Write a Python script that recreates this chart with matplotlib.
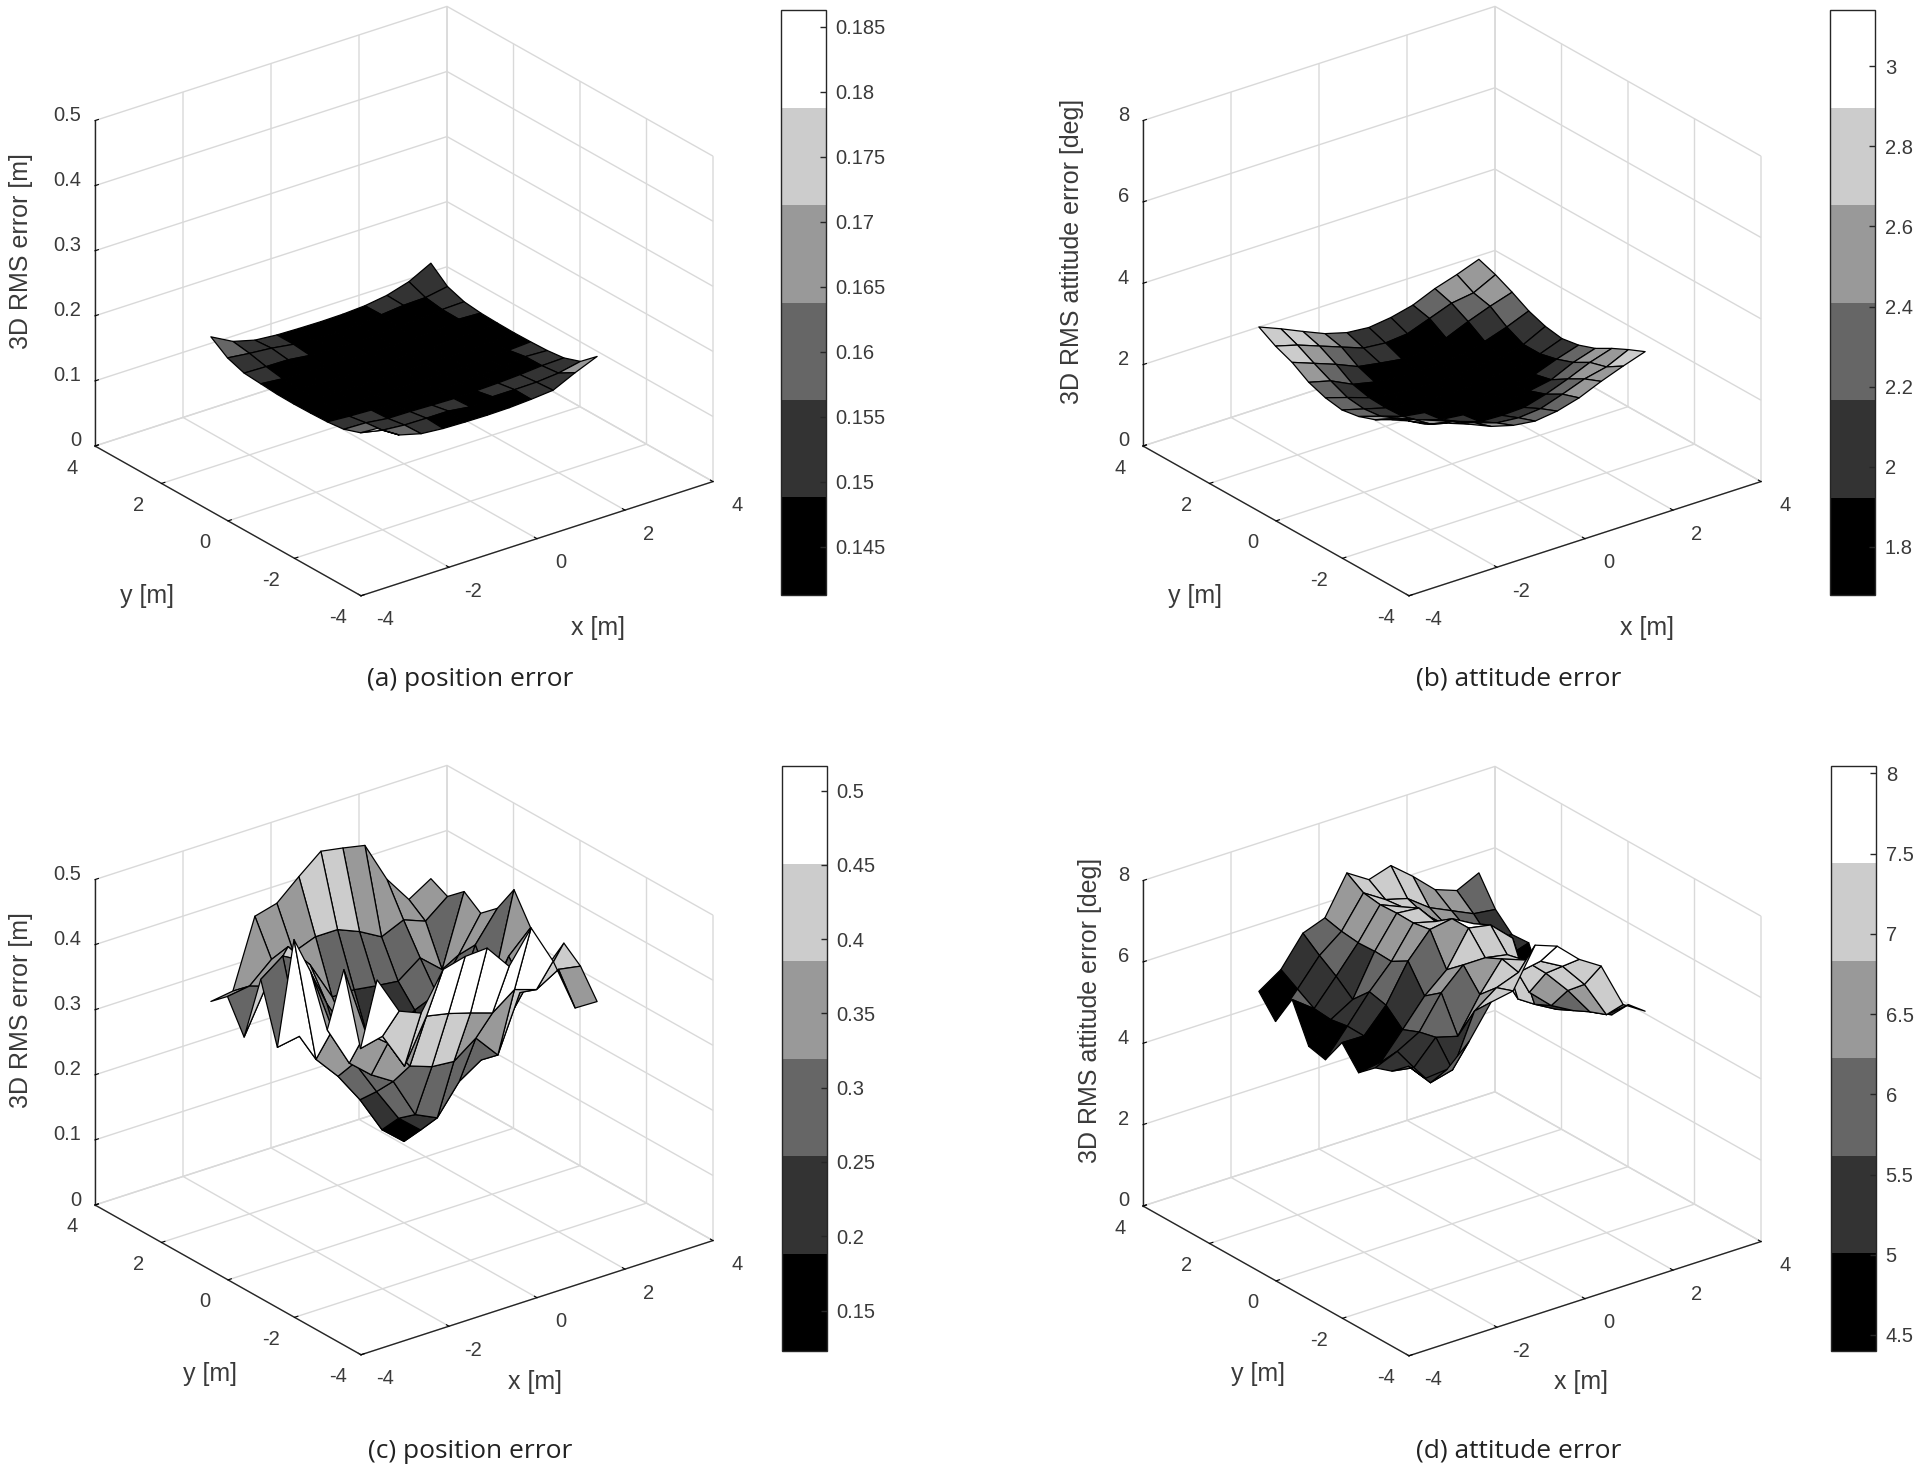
import matplotlib
matplotlib.use('Agg')
import matplotlib.pyplot as plt
from matplotlib.cm import ScalarMappable
from matplotlib.colors import ListedColormap, Normalize
from mpl_toolkits.mplot3d import proj3d
import numpy as np

plt.rcParams['font.family'] = ['Liberation Sans', 'DejaVu Sans']

W, H = 1919, 1474

x_grid = [-2.5, -2.0, -1.5, -1.0, -0.5, 0.0, 0.5, 1.0, 1.5, 2.0, 2.5]
y_grid = [-2.5, -2.0, -1.5, -1.0, -0.5, 0.0, 0.5, 1.0, 1.5, 2.0, 2.5]
xy_ticks = [-4, -2, 0, 2, 4]

# rows go with y, columns with x
pos_a = [
    [.1810, .1600, .1510, .1480, .1470, .1465, .1470, .1490, .1520, .1680, .1820],
    [.1600, .1530, .1500, .1495, .1495, .1450, .1495, .1495, .1500, .1530, .1600],
    [.1510, .1500, .1457, .1453, .1442, .1433, .1442, .1453, .1472, .1500, .1510],
    [.1480, .1457, .1442, .1433, .1428, .1426, .1428, .1433, .1457, .1495, .1480],
    [.1470, .1449, .1436, .1428, .1424, .1422, .1424, .1428, .1436, .1449, .1470],
    [.1465, .1445, .1433, .1426, .1422, .1420, .1422, .1426, .1433, .1445, .1465],
    [.1470, .1449, .1436, .1428, .1424, .1422, .1424, .1428, .1436, .1449, .1470],
    [.1490, .1457, .1442, .1433, .1428, .1426, .1428, .1433, .1442, .1495, .1480],
    [.1510, .1500, .1495, .1453, .1442, .1433, .1442, .1453, .1472, .1500, .1510],
    [.1600, .1560, .1530, .1480, .1457, .1445, .1457, .1495, .1530, .1540, .1600],
    [.1780, .1600, .1510, .1480, .1470, .1465, .1470, .1490, .1540, .1640, .1815],
]
att_b = [
    [3.00, 2.85, 2.65, 2.42, 2.27, 2.20, 2.27, 2.42, 2.65, 2.85, 3.03],
    [2.85, 2.60, 2.48, 2.28, 2.10, 2.05, 2.10, 2.28, 2.48, 2.60, 2.85],
    [2.65, 2.48, 2.28, 2.08, 1.90, 1.88, 1.90, 2.05, 2.25, 2.48, 2.65],
    [2.42, 2.28, 2.05, 1.90, 1.84, 1.82, 1.84, 1.90, 2.00, 2.25, 2.42],
    [2.27, 2.10, 1.92, 1.84, 1.80, 1.77, 1.80, 1.84, 1.90, 2.10, 2.27],
    [2.20, 2.05, 1.90, 1.82, 1.77, 1.74, 1.77, 1.82, 1.88, 2.00, 2.20],
    [2.27, 2.10, 1.92, 1.84, 1.80, 1.77, 1.80, 1.84, 1.90, 2.00, 2.27],
    [2.42, 2.28, 2.02, 1.90, 1.84, 1.82, 1.84, 1.90, 2.02, 2.20, 2.42],
    [2.68, 2.48, 2.28, 2.05, 1.96, 1.88, 1.90, 2.05, 2.28, 2.48, 2.65],
    [2.85, 2.70, 2.50, 2.30, 2.10, 2.05, 2.10, 2.30, 2.50, 2.58, 2.85],
    [3.09, 2.87, 2.63, 2.40, 2.25, 2.20, 2.27, 2.40, 2.63, 2.80, 3.00],
]
pos_c = [
    [.500, .441, .427, .483, .492, .494, .455, .503, .441, .358, .357],
    [.380, .388, .331, .397, .390, .380, .369, .394, .383, .403, .397],
    [.487, .379, .352, .306, .294, .291, .316, .279, .364, .368, .418],
    [.380, .318, .289, .268, .206, .190, .235, .257, .295, .345, .368],
    [.455, .355, .293, .238, .186, .157, .190, .250, .310, .380, .413],
    [.490, .295, .258, .211, .154, .125, .155, .210, .270, .315, .457],
    [.310, .316, .300, .260, .205, .160, .180, .220, .280, .369, .414],
    [.400, .425, .406, .330, .270, .240, .250, .276, .290, .339, .392],
    [.297, .364, .414, .375, .315, .315, .310, .306, .331, .302, .411],
    [.345, .350, .380, .380, .393, .393, .379, .360, .375, .362, .389],
    [.323, .328, .432, .441, .471, .499, .493, .486, .423, .381, .402],
]
att_d = [
    [5.60, 5.65, 6.16, 6.95, 7.05, 8.00, 7.80, 7.30, 6.96, 5.84, 5.50],
    [5.67, 5.09, 5.23, 6.50, 6.90, 7.10, 7.20, 6.90, 6.28, 5.36, 5.43],
    [5.32, 5.23, 5.80, 5.65, 6.50, 7.20, 7.00, 6.50, 5.90, 5.20, 4.95],
    [5.17, 5.40, 5.70, 6.49, 7.00, 7.00, 6.90, 5.80, 5.30, 5.00, 5.10],
    [4.82, 4.90, 5.53, 6.18, 6.65, 7.50, 7.40, 6.90, 5.10, 4.80, 5.20],
    [5.33, 5.32, 5.90, 6.81, 7.41, 7.50, 7.20, 6.90, 5.00, 4.70, 4.60],
    [4.68, 5.33, 6.00, 6.57, 7.34, 7.20, 6.60, 5.70, 5.40, 4.90, 4.52],
    [4.78, 5.26, 5.58, 6.59, 7.35, 7.30, 6.70, 6.20, 5.70, 5.40, 5.57],
    [5.70, 5.30, 5.92, 6.57, 7.33, 7.10, 6.75, 6.30, 6.00, 5.60, 5.54],
    [4.93, 5.55, 6.20, 6.62, 7.39, 7.05, 6.90, 6.50, 6.25, 6.00, 5.93],
    [5.44, 5.80, 6.52, 6.72, 7.65, 7.31, 7.48, 7.04, 6.54, 6.34, 6.60],
]

z_ticks_pos = [0, 0.1, 0.2, 0.3, 0.4, 0.5]
z_labels_pos = ['0', '0.1', '0.2', '0.3', '0.4', '0.5']
z_ticks_att = [0, 2, 4, 6, 8]
z_labels_att = ['0', '2', '4', '6', '8']

cb_ticks_a = [0.145, 0.15, 0.155, 0.16, 0.165, 0.17, 0.175, 0.18, 0.185]
cb_labels_a = ['0.145', '0.15', '0.155', '0.16', '0.165', '0.17', '0.175', '0.18', '0.185']
cb_ticks_b = [1.8, 2, 2.2, 2.4, 2.6, 2.8, 3]
cb_labels_b = ['1.8', '2', '2.2', '2.4', '2.6', '2.8', '3']
cb_ticks_c = [0.15, 0.2, 0.25, 0.3, 0.35, 0.4, 0.45, 0.5]
cb_labels_c = ['0.15', '0.2', '0.25', '0.3', '0.35', '0.4', '0.45', '0.5']
cb_ticks_d = [4.5, 5, 5.5, 6, 6.5, 7, 7.5, 8]
cb_labels_d = ['4.5', '5', '5.5', '6', '6.5', '7', '7.5', '8']

gray6 = ListedColormap(['#000000', '#333333', '#666666', '#999999', '#cccccc', '#ffffff'])
text_col = '#3a3a3a'
grid_col = '#d9d9d9'
fig = plt.figure(figsize=(W / 100, H / 100), dpi=100, facecolor='white')


def px_text(x, y, s, **kw):
    fig.text(x / W, 1 - y / H, s, ha='center', va='center', **kw)


def place_axes(ax, front, left, right):
    # move and scale the square 3D axes until its floor corners land on the wanted pixels
    box = [0.2, 0.2, 0.6, 0.6 * W / H]
    for _ in range(3):
        ax.set_position(box)
        ax.apply_aspect()
        pts = []
        for cx, cy in [(-4, 4), (4, -4)]:
            u, v, _z = proj3d.proj_transform(cx, cy, 0, ax.get_proj())
            pts.append(ax.transData.transform((u, v)))
        scale = (right[0] - left[0]) / (pts[1][0] - pts[0][0])
        w_px = box[2] * W * scale
        px = np.array(pts[0])
        l_px = box[0] * W
        b_px = box[1] * H
        l_new = left[0] - (px[0] - l_px) * scale
        b_new = (H - left[1]) - (px[1] - b_px) * scale
        box = [l_new / W, b_new / H, w_px / W, w_px / H]
    ax.set_position(box)
    ax.apply_aspect()


def tick_label(ax, x, y, z, s, dx, dy, ha='center'):
    u, v, _z = proj3d.proj_transform(x, y, z, ax.get_proj())
    ax.annotate(s, (u, v), xytext=(dx, dy), textcoords='offset pixels', ha=ha, va='center',
                fontsize=14.5, color=text_col, annotation_clip=False)


def panel(values, clim, z_top, z_ticks, z_labels, front, cb_x, cb_top, cb_ticks, cb_labels,
          z_name, z_name_xy, x_name_xy, y_name_xy, caption, caption_xy):
    ax = fig.add_subplot(projection='3d', computed_zorder=False)
    ax.set_proj_type('ortho')
    ax.view_init(elev=25.3, azim=-127.2)
    ax.set_box_aspect((442, 440, 360))
    ax.set_xlim(-4, 4)
    ax.set_ylim(-4, 4)
    ax.set_zlim(0, z_top)
    ax.set_xticks(xy_ticks)
    ax.set_yticks(xy_ticks)
    ax.set_zticks(z_ticks)
    ax.set_xticklabels([])
    ax.set_yticklabels([])
    ax.set_zticklabels([])
    ax.set_facecolor('none')
    for axis in (ax.xaxis, ax.yaxis, ax.zaxis):
        axis.set_pane_color((1, 1, 1, 0))
        axis.pane.set_edgecolor(grid_col)
        axis._axinfo['grid'].update(color=grid_col, linewidth=1.0)
        axis._axinfo['tick'].update(inward_factor=0.0, outward_factor=0.12)
        axis.line.set_color('#262626')
        axis.line.set_linewidth(1.0)
    ax.zaxis.set_ticks_position('upper')

    left = (front[0] - 266, front[1] - 150)
    right = (front[0] + 352, front[1] - 114)
    place_axes(ax, front, left, right)

    norm = Normalize(*clim)
    X, Y = np.meshgrid(x_grid, y_grid)
    Z = np.array(values)
    ax.plot_surface(X, Y, Z, facecolors=gray6(norm(Z)), rstride=1, cstride=1, shade=False,
                    edgecolor='#000000', linewidth=0.9, antialiased=True)

    for t in xy_ticks:
        tick_label(ax, t, -4, 0, str(t), 24, -24)
        tick_label(ax, -4, t, 0, str(t), -23, -22)
    for t, s in zip(z_ticks, z_labels):
        tick_label(ax, -4, 4, t, s, -14, 5, ha='right')

    px_text(*x_name_xy, 'x [m]', fontsize=18, color=text_col)
    px_text(*y_name_xy, 'y [m]', fontsize=18, color=text_col)
    px_text(*z_name_xy, z_name, fontsize=18, color=text_col, rotation=90)
    px_text(*caption_xy, caption, fontsize=19, color='#222222', family='Open Sans')

    cax = fig.add_axes([cb_x / W, 1 - (cb_top + 585) / H, 45 / W, 585 / H])
    cb = fig.colorbar(ScalarMappable(norm=norm, cmap=gray6), cax=cax)
    cb.set_ticks(cb_ticks, labels=cb_labels)
    cb.ax.tick_params(direction='in', length=4, width=1, labelsize=14.5, labelcolor=text_col,
                      color='#262626', pad=7)
    cb.outline.set_edgecolor('#262626')
    cb.outline.set_linewidth(1.0)


panel(pos_a, (.1413, .1863), 0.5, z_ticks_pos, z_labels_pos, (361, 596), 781, 10,
      cb_ticks_a, cb_labels_a, '3D RMS error [m]', (21, 251), (598, 628), (147, 596),
      '(a) position error', (470, 679))
panel(att_b, (1.68, 3.14), 8, z_ticks_att, z_labels_att, (1409, 596), 1830, 10,
      cb_ticks_b, cb_labels_b, '3D RMS attitude error [deg]', (1072, 251), (1647, 628), (1195, 596),
      '(b) attitude error', (1519, 679))
panel(pos_c, (.1228, .5165), 0.5, z_ticks_pos, z_labels_pos, (361, 1355), 782, 766,
      cb_ticks_c, cb_labels_c, '3D RMS error [m]', (21, 1010), (535, 1382), (210, 1374),
      '(c) position error', (470, 1451))
panel(att_d, (4.40, 8.046), 8, z_ticks_att, z_labels_att, (1409, 1356), 1831, 766,
      cb_ticks_d, cb_labels_d, '3D RMS attitude error [deg]', (1090, 1010), (1581, 1382), (1258, 1374),
      '(d) attitude error', (1519, 1451))

plt.savefig('out.png', dpi=100)
